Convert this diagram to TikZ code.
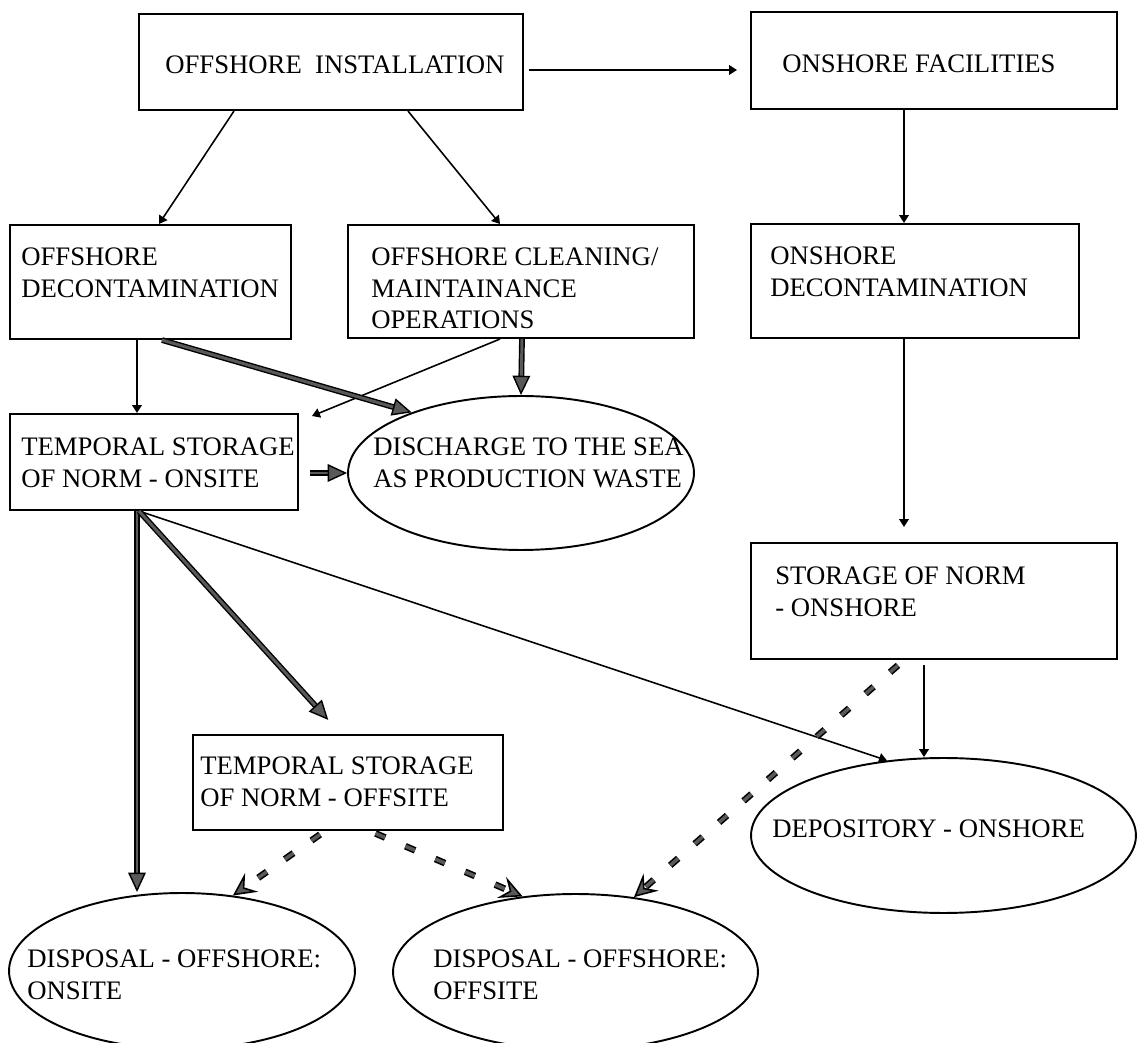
\documentclass[tikz,border=0pt]{standalone}
\usepackage{fontspec}
\setmainfont{Liberation Serif}
\usepackage{tikz}
\usetikzlibrary{arrows.meta,shapes.geometric}

\tikzset{
  box/.style={draw, rectangle, line width=1.2pt, inner sep=0pt},
  oval/.style={draw, ellipse, line width=1.1pt, inner sep=0pt},
  txt/.style={anchor=north west, inner sep=0pt, align=left,
    font=\fontsize{15.2pt}{18.2pt}\selectfont},
  flow/.style={line width=0.9pt, -{Triangle[length=4.5pt, width=5.5pt]}},
  heavy/.style={line width=0.8pt, double=black!65, double distance=1.7pt,
    -{Triangle[length=11pt, width=10pt, fill=black!65]}},
  dashy/.style={line width=0.9pt, double=black!65, double distance=2pt,
    dash pattern=on 6pt off 12.5pt,
    -{Stealth[length=13pt, width=13pt, inset=5pt, fill=black!65]}}
}

\begin{document}
\begin{tikzpicture}[x=0.02cm, y=-0.02cm]
    \useasboundingbox (0,0) rectangle (1137,1043);
  % boxes
    \node[box, minimum width=7.68cm, minimum height=1.92cm] (offinst) at (331,62) {};
    \node[box, minimum width=7.32cm, minimum height=1.94cm] (onfac) at (934,60.5) {};
    \node[box, minimum width=5.62cm, minimum height=2.28cm] (offdecon) at (150.5,282) {};
    \node[box, minimum width=6.92cm, minimum height=2.26cm] (offclean) at (521,281.5) {};
    \node[box, minimum width=6.56cm, minimum height=2.28cm] (ondecon) at (915,281) {};
    \node[box, minimum width=5.76cm, minimum height=1.92cm] (temponsite) at (154,462) {};
    \node[box, minimum width=7.32cm, minimum height=2.32cm] (storon) at (934,601) {};
    \node[box, minimum width=6.2cm, minimum height=1.9cm] (tempoffsite) at (348,782.5) {};
  % ellipses
    \node[oval, minimum width=6.92cm, minimum height=3.08cm] (discharge) at (521,473) {};
    \node[oval, minimum width=7.7cm, minimum height=3.1cm] (depository) at (943.5,835.5) {};
    \node[oval, minimum width=6.92cm, minimum height=3.12cm] (disponsite) at (182,971) {};
    \node[oval, minimum width=7.3cm, minimum height=3.12cm] (dispoffsite) at (575.5,972) {};
  % texts
    \node[txt] (offinst-t) at (165,55) {OFFSHORE\ \ INSTALLATION};
    \node[txt] (onfac-t) at (782,54) {ONSHORE FACILITIES};
    \node[txt] (offdecon-t) at (21,247) {OFFSHORE\\DECONTAMINATION};
    \node[txt] (offclean-t) at (371,247) {OFFSHORE CLEANING/\\MAINTAINANCE\\OPERATIONS};
    \node[txt] (ondecon-t) at (770,246) {ONSHORE\\DECONTAMINATION};
    \node[txt] (temponsite-t) at (21,437) {TEMPORAL STORAGE\\OF NORM - ONSITE};
    \node[txt] (discharge-t) at (373,437) {DISCHARGE TO THE SEA\\AS PRODUCTION WASTE};
    \node[txt] (storon-t) at (775,566) {STORAGE OF NORM\\- ONSHORE};
    \node[txt] (tempoffsite-t) at (200,756) {TEMPORAL STORAGE\\OF NORM - OFFSITE};
    \node[txt] (depository-t) at (772,819) {DEPOSITORY - ONSHORE};
    \node[txt] (disponsite-t) at (27,949) {DISPOSAL - OFFSHORE:\\ONSITE};
    \node[txt] (dispoffsite-t) at (433,949) {DISPOSAL - OFFSHORE:\\OFFSITE};
  % thin arrows
    \draw[flow, shorten <=0.1cm, shorten >=0.26cm] (offinst.east |- 0,70) -- (onfac.west |- 0,70);
    \draw[flow] (234,0 |- offinst.south) -- (159,0 |- offdecon.north);
    \draw[flow] (408,0 |- offinst.south) -- (500,0 |- offclean.north);
    \draw[flow] (904,0 |- onfac.south) -- (904,0 |- ondecon.north);
    \draw[flow, shorten >=0.3cm] (904,0 |- ondecon.south) -- (904,0 |- storon.north);
    \draw[flow] (137,0 |- offdecon.south) -- (137,0 |- temponsite.north);
    \coordinate (cleanend) at (312,416);
    \draw[flow] (500,0 |- offclean.south) -- (cleanend);
    \draw[flow] (139,0 |- temponsite.south) -- (depository.127);
    \draw[flow, shorten <=0.1cm] (924,0 |- storon.south) -- (924,0 |- depository.north);
  % heavy arrows
    \draw[heavy] (162,0 |- offdecon.south) -- (discharge.151);
    \draw[heavy] (522,0 |- offclean.south) -- (discharge.north);
    \draw[heavy, shorten <=0.22cm] (temponsite.east |- discharge.west) -- (discharge.west);
    \draw[heavy] (137,0 |- temponsite.south) -- (137,0 |- disponsite.north);
    \draw[heavy, shorten >=0.38cm] (139,0 |- temponsite.south) -- (341,0 |- tempoffsite.north);
  % dashed arrows
    \draw[dashy, shorten <=0.12cm] (325,0 |- tempoffsite.south) -- (disponsite.56);
    \draw[dashy, shorten <=0.12cm] (370,0 |- tempoffsite.south) -- (dispoffsite.125);
    \draw[dashy, shorten <=0.16cm] (904,0 |- storon.south) -- (dispoffsite.52);
\end{tikzpicture}
\end{document}
